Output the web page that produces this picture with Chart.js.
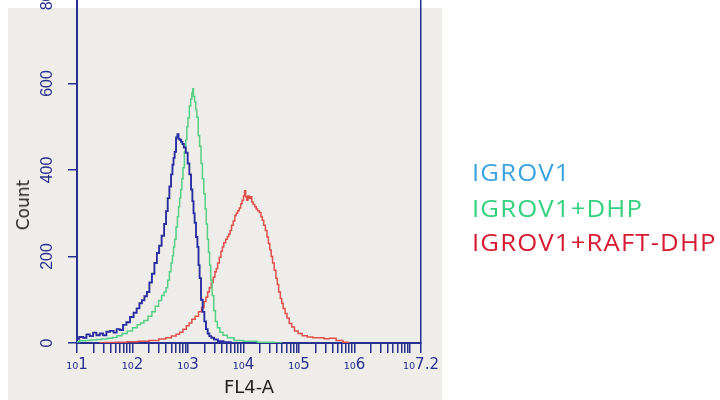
<!DOCTYPE html>
<html>
<head>
<meta charset="utf-8">
<script src="https://cdn.jsdelivr.net/npm/chart.js@4.4.1/dist/chart.umd.min.js"></script>
<style>
  html, body { margin: 0; padding: 0; background: #ffffff; }
  #stage { position: relative; width: 720px; height: 400px; overflow: hidden; background: #ffffff; }
  #panel { position: absolute; left: 8px; top: 8px; width: 434px; height: 392px; background: #eeede9; }
  #chartBox { position: absolute; left: 0; top: -23px; width: 720px; height: 423px; }
  #ytitle { position: absolute; left: 23px; top: 205px; transform: translate(-50%, -50%) rotate(-90deg);
            font-family: "DejaVu Sans", sans-serif; font-size: 17px; color: #222; white-space: nowrap; }
  .leg { position: absolute; left: 472px; font-family: "Open Sans", sans-serif; font-size: 23px; line-height: 1;
         letter-spacing: 1px; transform: scaleX(1.12); transform-origin: left center; white-space: nowrap; }
</style>
</head>
<body>
<div id="stage">
  <div id="panel"></div>
  <div id="chartBox"><canvas id="c" width="720" height="423"></canvas></div>
  <div id="ytitle">Count</div>
  <div class="leg" id="leg0" style="top:161px;color:#3ba3e0;">IGROV1</div>
  <div class="leg" id="leg1" style="top:197px;color:#34d17e;">IGROV1+DHP</div>
  <div class="leg" id="leg2" style="top:231px;color:#d81a30;">IGROV1+RAFT-DHP</div>
</div>
<script>
// ---- data (x positions in log10 units of FL4-A, y = count) ----
const seriesNames = ["IGROV1", "IGROV1+DHP", "IGROV1+RAFT-DHP"];

const igrovLog = [1.00,1.08,1.14,1.20,1.26,1.32,1.38,1.44,1.50,1.56,1.63,1.69,1.74,1.80,1.86,1.92,1.99,2.05,2.10,2.15,2.19,2.24,2.28,2.33,2.37,2.42,2.46,2.50,2.55,2.59,2.62,2.65,2.68,2.71,2.73,2.75,2.77,2.80,2.82,2.84,2.86,2.89,2.91,2.94,2.98,3.01,3.04,3.07,3.09,3.11,3.13,3.16,3.18,3.20,3.22,3.25,3.28,3.31,3.34,3.37,3.40,3.44,3.50,3.58,3.70,3.85];
const igrovCount = [10,14,12,20,16,24,18,22,18,26,28,24,32,30,42,48,60,70,80,92,99,108,118,140,160,185,208,225,248,275,305,335,362,390,412,428,442,475,483,472,470,465,460,452,440,415,390,355,328,300,278,245,222,180,150,100,72,50,32,22,16,12,8,4,2,0];

const dhpLog = [1.00,1.10,1.20,1.30,1.40,1.50,1.60,1.68,1.76,1.86,1.95,2.05,2.12,2.17,2.24,2.32,2.38,2.44,2.50,2.55,2.59,2.62,2.65,2.68,2.71,2.73,2.75,2.77,2.80,2.82,2.84,2.86,2.88,2.90,2.92,2.95,2.97,2.99,3.01,3.04,3.06,3.08,3.09,3.11,3.13,3.15,3.17,3.20,3.22,3.25,3.27,3.30,3.32,3.34,3.36,3.38,3.40,3.42,3.45,3.48,3.51,3.55,3.60,3.66,3.76,3.90,4.10,4.40,4.70];
const dhpCount = [3,5,6,7,8,9,11,13,17,22,28,35,42,46,52,62,72,85,98,110,118,128,145,165,185,202,222,240,268,292,315,335,355,380,405,442,470,500,520,548,565,578,588,570,558,540,522,480,455,415,380,345,310,275,240,210,180,145,110,75,50,35,25,18,12,6,4,2,0];

const raftLog = [1.40,1.60,1.80,2.00,2.20,2.40,2.55,2.65,2.75,2.82,2.88,2.94,3.00,3.04,3.10,3.16,3.22,3.27,3.31,3.34,3.37,3.40,3.44,3.47,3.50,3.52,3.55,3.58,3.61,3.63,3.66,3.70,3.72,3.75,3.77,3.80,3.83,3.86,3.88,3.91,3.94,3.96,3.99,4.01,4.03,4.05,4.07,4.09,4.12,4.14,4.16,4.19,4.22,4.24,4.27,4.30,4.33,4.35,4.38,4.41,4.44,4.46,4.49,4.51,4.54,4.57,4.60,4.62,4.65,4.68,4.70,4.73,4.77,4.80,4.85,4.89,4.95,5.02,5.10,5.20,5.30,5.40,5.50,5.60,5.74,5.85,5.92];
const raftCount = [0,1,2,3,4,6,9,12,16,20,25,32,40,46,55,62,72,82,96,106,118,128,140,152,165,172,185,198,212,222,232,240,246,252,260,272,282,295,300,306,312,322,330,340,352,338,330,340,334,338,326,320,315,310,306,302,292,284,272,260,245,230,215,200,185,168,150,135,118,103,92,80,68,58,45,37,28,22,17,14,12,12,10,11,6,2,0];

// axis tick definitions
const yTicks = [0, 200, 400, 600, 800];
const xDecades = [1, 2, 3, 4, 5, 6];
const xMinorMultipliers = [1, 2, 3, 4, 5, 6, 7, 8, 9];
const xMaxExp = 7.2;
const xLabelExps = ["1", "2", "3", "4", "5", "6", "7.2"];

const axisColor = "#28308f";
const lineColors = ["#2b2ea0", "#58cf85", "#e0504c"];

function pts(logs, counts) {
  return logs.map((l, i) => ({ x: Math.pow(10, l), y: counts[i] }));
}

const ctx = document.getElementById("c").getContext("2d");
new Chart(ctx, {
  type: "line",
  data: {
    datasets: [
      { label: seriesNames[0], data: pts(igrovLog, igrovCount), borderColor: lineColors[0], borderWidth: 1.9 },
      { label: seriesNames[1], data: pts(dhpLog, dhpCount), borderColor: lineColors[1], borderWidth: 1.5 },
      { label: seriesNames[2], data: pts(raftLog, raftCount), borderColor: lineColors[2], borderWidth: 1.5 }
    ].map(d => Object.assign(d, { pointRadius: 0, stepped: "middle", fill: false, tension: 0 }))
  },
  options: {
    responsive: false,
    devicePixelRatio: 1,
    animation: false,
    events: [],
    layout: { padding: { left: 0, top: 20, right: 299, bottom: 0 } },
    plugins: { legend: { display: false }, tooltip: { enabled: false } },
    scales: {
      x: {
        type: "logarithmic",
        min: 10,
        max: Math.pow(10, xMaxExp),
        afterBuildTicks(scale) {
          const t = [];
          xDecades.forEach(d => xMinorMultipliers.forEach(m => t.push({ value: m * Math.pow(10, d) })));
          t.push({ value: Math.pow(10, 7) });
          t.push({ value: Math.pow(10, xMaxExp) });
          scale.ticks = t;
        },
        afterFit(scale) { scale.height = 57; },
        grid: { display: true, drawOnChartArea: false, drawTicks: true, tickLength: 10, color: axisColor, lineWidth: 1.5 },
        border: { display: true, color: axisColor, width: 2 },
        ticks: {
          autoSkip: false, maxRotation: 0, minRotation: 0, padding: 3,
          color: axisColor,
          font: { family: "DejaVu Sans", size: 15 },
          callback(value) {
            const e = Math.log10(value);
            if (Math.abs(e - xMaxExp) < 1e-6) return "\u2081\u2080" + xLabelExps[6];
            const r = Math.round(e);
            if (Math.abs(e - r) < 1e-6 && r >= 1 && r <= 6) return "\u2081\u2080" + xLabelExps[r - 1];
            return "";
          }
        },
        title: { display: true, text: "FL4-A", color: "#222", font: { family: "DejaVu Sans", size: 18 }, padding: { top: 0, bottom: 1 } }
      },
      y: {
        type: "linear",
        position: "left",
        min: 0, max: 800,
        afterBuildTicks(scale) { scale.ticks = yTicks.map(v => ({ value: v })); },
        afterFit(scale) { scale.width = 77; },
        grid: { display: true, drawOnChartArea: false, drawTicks: true, tickLength: 9, color: axisColor, lineWidth: 1.5 },
        border: { display: true, color: axisColor, width: 2 },
        ticks: { minRotation: 90, maxRotation: 90, crossAlign: "center", padding: 7, color: axisColor,
                 font: { family: "Liberation Sans", size: 16 } }
      },
      y1: {
        type: "linear",
        position: "right",
        afterFit(scale) { scale.width = 0; },
        grid: { display: false },
        ticks: { display: false },
        border: { display: true, color: axisColor, width: 1.5 }
      }
    }
  }
});
</script>
</body>
</html>
